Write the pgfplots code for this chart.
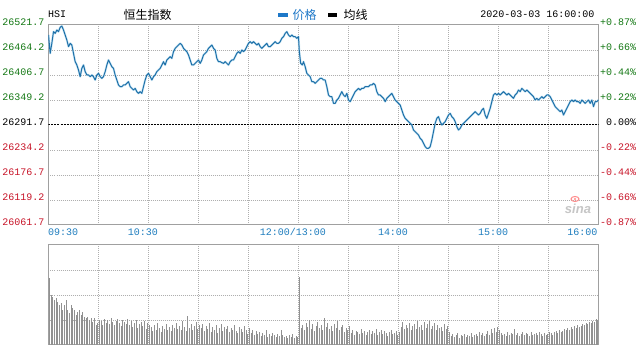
\documentclass[border=0pt]{standalone}
\usepackage{pgfplots}
\pgfplotsset{compat=1.18}
\usepackage{pgfplotstable}
\usepackage{fontspec}
\setmainfont{Liberation Mono}
\newfontfamily\cjk{Noto Sans CJK SC}
\newfontfamily\sinafont{Liberation Sans}
\definecolor{lineblue}{RGB}{30,112,168}
\definecolor{halo}{RGB}{170,215,240}
\definecolor{lblgreen}{RGB}{20,120,20}
\definecolor{lblred}{RGB}{200,20,40}
\definecolor{timeblue}{RGB}{30,125,190}
\definecolor{legblue}{RGB}{30,120,200}
\definecolor{gridgray}{RGB}{175,175,175}
\definecolor{framegray}{RGB}{160,160,160}
\definecolor{volgray}{RGB}{145,145,145}

\pgfplotstableread{
t p
0 26498.7
1 26456.5
2 26479.5
3 26506.4
4 26502.5
5 26510.2
6 26506.4
7 26516.3
8 26519.4
9 26510.2
10 26498.7
11 26487.2
12 26471.9
13 26479.5
14 26475.7
15 26456.5
16 26437.4
17 26429.7
18 26418.2
19 26402.9
20 26422.0
21 26429.7
22 26414.4
23 26406.7
24 26406.7
25 26402.9
26 26406.7
27 26402.9
28 26395.2
29 26406.7
30 26410.5
31 26402.9
32 26399.0
33 26402.9
34 26414.4
35 26429.7
36 26441.2
37 26433.5
38 26425.9
39 26422.0
40 26406.7
41 26395.2
42 26383.7
43 26379.9
44 26379.9
45 26383.7
46 26383.7
47 26387.5
48 26391.4
49 26379.9
50 26376.0
51 26372.2
52 26376.0
53 26368.4
54 26364.5
55 26368.4
56 26364.5
57 26379.9
58 26395.2
59 26406.7
60 26410.5
61 26402.9
62 26395.2
63 26402.9
64 26406.7
65 26414.4
66 26418.2
67 26422.0
68 26429.7
69 26437.4
70 26429.7
71 26441.2
72 26445.0
73 26448.9
74 26445.0
75 26460.4
76 26468.0
77 26471.9
78 26475.7
79 26479.5
80 26475.7
81 26468.0
82 26464.2
83 26460.4
84 26452.7
85 26441.2
86 26429.7
87 26429.7
88 26433.5
89 26437.4
90 26441.2
91 26433.5
92 26441.2
93 26452.7
94 26456.5
95 26460.4
96 26468.0
97 26471.9
98 26475.7
99 26468.0
100 26464.2
101 26445.0
102 26437.4
103 26437.4
104 26435.1
105 26433.5
106 26437.4
107 26433.5
108 26429.7
109 26437.4
110 26441.2
111 26441.2
112 26448.9
113 26456.5
114 26460.4
115 26456.5
116 26464.2
117 26460.4
118 26464.2
119 26471.9
120 26479.5
121 26483.4
122 26479.5
123 26483.4
124 26479.5
125 26475.7
126 26479.5
127 26471.9
128 26468.0
129 26471.9
130 26475.7
131 26479.5
132 26471.9
133 26471.9
134 26475.7
135 26479.5
136 26483.4
137 26479.5
138 26479.5
139 26483.4
140 26491.0
141 26494.9
142 26502.5
143 26506.4
144 26498.7
145 26494.9
146 26498.7
147 26494.9
148 26494.9
149 26491.0
150 26494.9
150.5 26460.3
151.3 26433.5
152.3 26429.7
153 26437.4
154 26425.9
155 26410.5
156 26406.7
157 26402.9
158 26391.4
159 26391.4
160 26387.5
161 26391.4
162 26395.2
163 26399.0
164 26399.0
165 26395.2
166 26395.2
167 26379.9
168 26360.7
169 26356.9
170 26356.9
171 26341.5
172 26341.5
173 26349.2
174 26353.0
175 26360.7
176 26368.4
177 26360.7
178 26356.9
179 26364.5
180 26349.2
181 26345.4
182 26353.0
183 26360.7
184 26368.4
185 26372.2
186 26376.0
187 26372.2
188 26376.0
189 26376.0
190 26379.9
191 26379.9
192 26379.9
193 26383.7
194 26383.7
195 26387.5
196 26383.7
197 26368.4
198 26360.7
199 26360.7
200 26356.9
201 26353.0
202 26345.4
203 26353.0
204 26356.9
205 26360.7
206 26364.5
207 26356.9
208 26349.2
209 26345.4
210 26341.5
211 26337.7
212 26326.2
213 26314.7
214 26307.0
215 26303.2
216 26299.4
217 26295.5
218 26291.7
219 26280.2
220 26276.4
221 26272.5
222 26268.7
223 26261.0
224 26257.2
225 26249.5
226 26241.9
227 26238.0
228 26238.0
229 26241.9
230 26257.2
231 26276.4
232 26295.5
233 26307.0
234 26310.9
235 26299.4
236 26291.7
237 26295.5
238 26299.4
239 26307.0
240 26314.7
241 26318.5
242 26310.9
243 26307.0
244 26299.4
245 26287.9
246 26280.2
247 26284.0
248 26291.7
249 26295.5
250 26299.4
251 26303.2
252 26307.0
253 26310.9
254 26314.7
255 26318.5
256 26322.4
257 26318.5
258 26314.7
259 26318.5
260 26326.2
261 26330.0
262 26314.7
263 26307.0
264 26318.5
265 26330.0
266 26345.4
267 26360.7
268 26364.5
269 26360.7
270 26364.5
271 26360.7
272 26364.5
273 26368.4
274 26364.5
275 26360.7
276 26364.5
277 26360.7
278 26356.9
279 26353.0
280 26360.7
281 26364.5
282 26372.2
283 26368.4
284 26376.0
285 26372.2
286 26368.4
287 26372.2
288 26368.4
289 26364.5
290 26360.7
291 26356.9
292 26349.2
293 26353.0
294 26349.2
295 26353.0
296 26356.9
297 26353.0
298 26356.9
299 26360.7
300 26360.7
301 26356.9
302 26349.2
303 26341.5
304 26333.9
305 26330.0
306 26326.2
307 26322.4
308 26326.2
309 26314.7
310 26322.4
311 26330.0
312 26337.7
313 26345.4
314 26349.2
315 26345.4
316 26349.2
317 26345.4
318 26345.4
319 26341.5
320 26349.2
321 26345.4
322 26341.5
323 26345.4
324 26349.2
325 26341.5
326 26349.2
327 26333.9
328 26345.4
329 26345.4
330 26349.2
}\pricetable

\pgfplotstableread{
v
67
50
48
45
47
43
40
42
35
40
45
35
32
40
37
35
30
33
35
30
33
28
27
28
25
27
23
27
20
22
25
24
20
26
22
25
21
27
23
20
24
26
22
19
25
23
21
26
20
24
18
22
25
17
21
23
19
24
16
22
20
18
14
20
15
22
17
13
19
16
21
15
18
14
20
17
22
16
19
15
24
18
14
29
17
21
15
19
23
16
20
17
21
14
19
16
22
13
18
15
20
12
17
21
14
18
16
19
13
17
15
20
14
12
18
16
13
19
15
11
17
12
15
10
14
11
13
9
12
10
15
8
11
9
12
10
8
11
9
15
10
8
9
7
10
8
11
7
9
8
68
17
20
15
22
18
25
16
21
14
19
23
17
20
15
27
18
22
16
19
14
21
17
24
15
18
20
13
17
15
19
12
15
10
14
13
11
16
12
14
10
13
15
11
14
12
16
10
13
15
11
14
12
9
13
15
11
12
14
10
13
18
23
16
20
17
22
15
19
21
16
24
18
20
15
23
17
21
24
16
19
22
15
20
17
18
14
21
16
19
13
9
11
8
10
12
7
10
9
11
8
10
9
12
8
10
11
9
13
10
12
9
11
14
10
16
12
17
13
18
15
12
10
11
9
13
10
12
11
16
10
12
9
11
13
10
12
11
9
13
10
11
12
10
13
11
9
12
10
11
13
12
10
13
14
12
15
13
14
16
15
17
15
18
16
19
17
20
18
19
21
20
22
21
23
22
24
23
26
25
28
}\voltable

\begin{document}
\begin{tikzpicture}
\useasboundingbox (0pt,0pt) rectangle (638pt,350pt);
\fill[white] (0pt,0pt) rectangle (638pt,350pt);

% ---------- price panel ----------
\begin{axis}[
  at={(48.5pt,125pt)}, anchor=south west,
  scale only axis, width=550pt, height=200pt,
  xmin=0, xmax=330, ymin=26061.7, ymax=26521.7,
  scaled ticks=false,
  xtick={30,60,...,300},
  ytick={26119.2,26176.7,26234.2,26349.2,26406.7,26464.2},
  xticklabels={}, yticklabels={},
  major tick length=0pt,
  grid=major,
  grid style={gridgray, line width=0.8pt, dash pattern=on 1pt off 1pt},
  axis line style={framegray, line width=1pt},
]
\draw[black, line width=1pt, dash pattern=on 2pt off 1pt]
  (axis cs:0,26291.7) -- (axis cs:330,26291.7);
\addplot[halo, line width=2.2pt, line join=round, opacity=0.6] table[x=t,y=p] {\pricetable};
\addplot[lineblue, line width=1pt, line join=round] table[x=t,y=p] {\pricetable};
\end{axis}

% ---------- volume panel ----------
\begin{axis}[
  at={(48.5pt,5pt)}, anchor=south west,
  scale only axis, width=550pt, height=100pt,
  xmin=0, xmax=330, ymin=0, ymax=100,
  scaled ticks=false,
  xtick={30,60,...,300}, ytick={25,50,75},
  xticklabels={}, yticklabels={},
  major tick length=0pt,
  grid=major,
  grid style={gridgray, line width=0.8pt, dash pattern=on 1pt off 1pt},
  axis line style={framegray, line width=1pt},
]
\addplot[ycomb, volgray, line width=1pt, no markers] table[x expr=\coordindex+0.6, y=v] {\voltable};
\end{axis}

% ---------- header ----------
\begin{scope}[every node/.style={inner sep=0pt}]
\node[anchor=west, font=\fontsize{10pt}{12pt}\selectfont] at (48pt,336pt) {HSI};
\node[anchor=center, font=\cjk\fontsize{12pt}{14pt}\selectfont] at (147.5pt,335pt) {恒生指数};
\fill[legblue] (278.3pt,333pt) rectangle (287.5pt,337pt);
\node[anchor=west, font=\cjk\fontsize{12pt}{14pt}\selectfont, text=legblue] at (292.5pt,335pt) {价格};
\fill[black] (328pt,333pt) rectangle (337.2pt,337pt);
\node[anchor=west, font=\cjk\fontsize{12pt}{14pt}\selectfont] at (343.5pt,335pt) {均线};
\node[anchor=east, font=\fontsize{10pt}{12pt}\selectfont] at (594.5pt,335.5pt) {2020-03-03 16:00:00};

% left labels
\begin{scope}[every node/.append style={anchor=east, font=\fontsize{10pt}{12pt}\selectfont}]
\node[text=lblgreen] at (44.5pt,327.5pt) {26521.7};
\node[text=lblgreen] at (44.5pt,302.5pt) {26464.2};
\node[text=lblgreen] at (44.5pt,277.5pt) {26406.7};
\node[text=lblgreen] at (44.5pt,252.5pt) {26349.2};
\node[text=black]    at (44.5pt,227.5pt) {26291.7};
\node[text=lblred]   at (44.5pt,202.5pt) {26234.2};
\node[text=lblred]   at (44.5pt,177.5pt) {26176.7};
\node[text=lblred]   at (44.5pt,152.5pt) {26119.2};
\node[text=lblred]   at (44.5pt,127.5pt) {26061.7};
\end{scope}

% right labels
\begin{scope}[every node/.append style={anchor=west, font=\fontsize{10pt}{12pt}\selectfont}]
\node[text=lblgreen] at (600pt,327.5pt) {+0.87\%};
\node[text=lblgreen] at (600pt,302.5pt) {+0.66\%};
\node[text=lblgreen] at (600pt,277.5pt) {+0.44\%};
\node[text=lblgreen] at (600pt,252.5pt) {+0.22\%};
\node[text=black]    at (606pt,227.5pt) {0.00\%};
\node[text=lblred]   at (600pt,202.5pt) {-0.22\%};
\node[text=lblred]   at (600pt,177.5pt) {-0.44\%};
\node[text=lblred]   at (600pt,152.5pt) {-0.66\%};
\node[text=lblred]   at (600pt,127.5pt) {-0.87\%};
\end{scope}

% time labels
\begin{scope}[every node/.append style={font=\fontsize{10pt}{12pt}\selectfont, text=timeblue}]
\node[anchor=west] at (48pt,118pt) {09:30};
\node[anchor=center] at (142.8pt,118pt) {10:30};
\node[anchor=center] at (293pt,118pt) {12:00/13:00};
\node[anchor=center] at (393pt,118pt) {14:00};
\node[anchor=center] at (493pt,118pt) {15:00};
\node[anchor=east] at (597.5pt,118pt) {16:00};
\end{scope}

% watermark
\node[anchor=center, font=\sinafont\bfseries\itshape\fontsize{13pt}{14pt}\selectfont, text=gray!45] at (578pt,141pt) {sina};
\draw[red!45, line width=1pt] (575pt,151pt) ellipse (4pt and 2.5pt);
\fill[red!45] (575pt,151pt) circle (1.2pt);
\end{scope}
\end{tikzpicture}
\end{document}
